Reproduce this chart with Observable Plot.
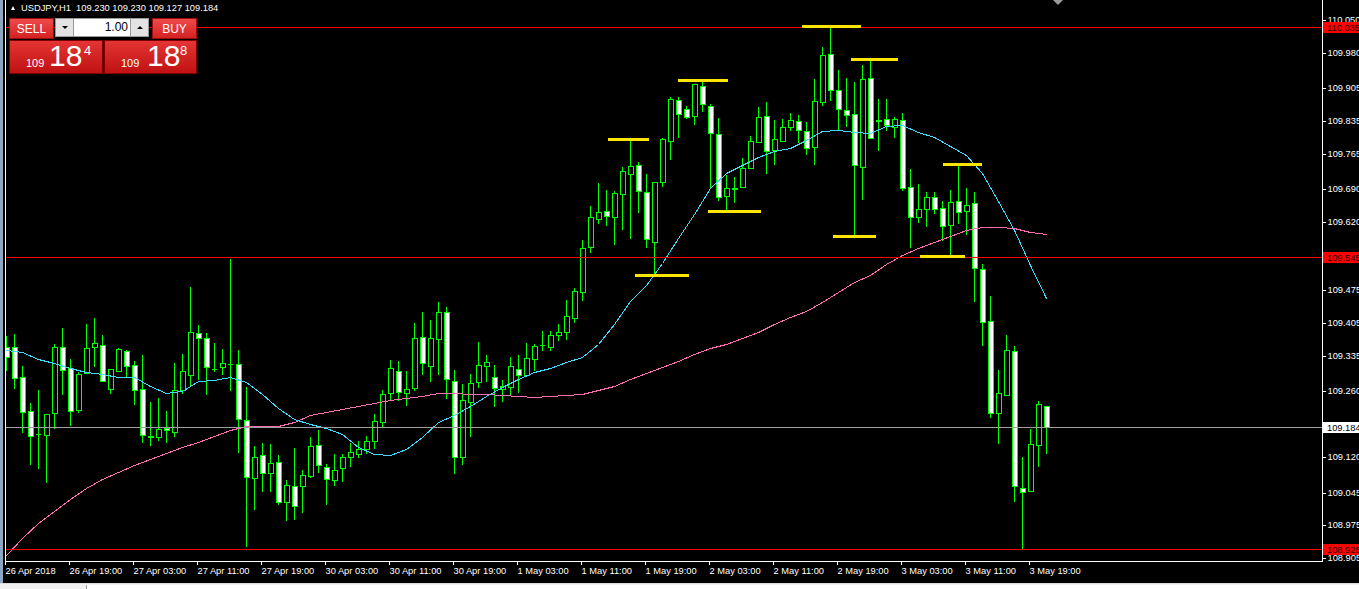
<!DOCTYPE html>
<html>
<head>
<meta charset="utf-8">
<script src="https://cdn.jsdelivr.net/npm/d3@7"></script>
<script src="https://cdn.jsdelivr.net/npm/@observablehq/plot@0.6"></script>
<style>
html,body{margin:0;padding:0;background:#000;width:1359px;height:589px;overflow:hidden;}
body{font-family:Tahoma,"Liberation Sans",Arial,sans-serif;}
#wrap{position:relative;width:1359px;height:589px;overflow:hidden;}
#chart{position:absolute;left:0;top:0;}
#leftedge{position:absolute;left:0;top:0;width:3px;height:583px;background:#8da5bf;}
#hdr{position:absolute;left:21px;top:3px;color:#fff;font-size:9.3px;line-height:10px;white-space:pre;}
#tri{position:absolute;left:11px;top:6px;width:0;height:0;border-left:2.5px solid transparent;border-right:2.5px solid transparent;border-bottom:4px solid #fff;}
.btn{position:absolute;top:18px;height:21px;background:linear-gradient(#ee4a4a,#d42222);border:1px solid #9c0b0b;box-sizing:border-box;color:#fff;font-size:12px;line-height:20px;text-align:center;}
#sell{left:9px;width:45px;}
#buy{left:152px;width:45px;}
.arr{position:absolute;top:18px;height:19px;width:19px;background:#e3e3e3;border:1px solid #9a9a9a;box-sizing:border-box;}
#dn{left:55px;}
#up{left:130px;}
.arr i{position:absolute;left:6px;width:0;height:0;border-left:3px solid transparent;border-right:3px solid transparent;}
#dn i{top:7px;border-top:3px solid #000;}
#up i{top:7px;border-bottom:3px solid #000;}
#inp{position:absolute;left:74px;top:18px;width:56px;height:19px;background:#fff;border-top:1px solid #9a9a9a;border-bottom:1px solid #9a9a9a;box-sizing:border-box;color:#000;font-size:12px;line-height:17px;text-align:right;padding-right:2px;}
.big{position:absolute;top:40px;height:34px;background:linear-gradient(#e43434,#c01212);border:1px solid #7c0000;box-sizing:border-box;color:#fff;}
#bsell{left:9px;width:94px;}
#bbuy{left:104px;width:93px;}
.big span{position:absolute;white-space:nowrap;}
.big .s{font-size:11px;line-height:11px;top:16.5px;}
.big .b{font-size:30px;line-height:30px;top:0px;}
.big .p{font-size:13px;line-height:13px;top:2.5px;}
#chev{position:absolute;left:1053px;top:0;width:0;height:0;border-left:5px solid transparent;border-right:5px solid transparent;border-top:5px solid #9a9a9a;}
#bottom{position:absolute;left:0;top:583px;width:1359px;height:6px;background:#f0f0f0;border-top:1px solid #dcdcdc;box-sizing:border-box;}
#tabs{position:absolute;left:86px;top:1px;width:1273px;height:5px;background:#fff;border-left:1px solid #a0a0a0;}
</style>
</head>
<body>
<div id="wrap">
  <div id="chart"></div>
  <div id="leftedge"></div>
  <div id="tri"></div>
  <div id="hdr"></div>
  <div class="btn" id="sell">SELL</div>
  <div class="arr" id="dn"><i></i></div>
  <div id="inp">1.00</div>
  <div class="arr" id="up"><i></i></div>
  <div class="btn" id="buy">BUY</div>
  <div class="big" id="bsell"><span class="s" style="left:16px">109</span><span class="b" style="left:39px">18</span><span class="p" style="left:74px">4</span></div>
  <div class="big" id="bbuy"><span class="s" style="left:16px">109</span><span class="b" style="left:42px">18</span><span class="p" style="left:75px">8</span></div>
  <div id="chev"></div>
  <div id="bottom"><div id="tabs"></div></div>
</div>
<script>
// ---- Data: USDJPY H1, bars 26 Apr 2018 11:00 .. 3 May 2018 21:00 ----
const symbol = "USDJPY,H1";
const open = [109.355,109.355,109.290,109.218,109.170,109.167,109.214,109.354,109.309,109.220,
109.299,109.354,109.359,109.265,109.304,109.347,109.316,109.265,109.165,109.164,
109.182,109.174,109.263,109.296,109.384,109.374,109.308,109.311,109.318,109.318,
109.199,109.075,109.124,109.087,109.109,109.026,109.058,109.058,109.081,109.146,
109.100,109.072,109.097,109.121,109.128,109.138,109.155,109.194,109.256,109.304,
109.256,109.268,109.376,109.315,109.371,109.430,109.283,109.121,109.238,109.281,
109.314,109.290,109.265,109.269,109.307,109.295,109.329,109.358,109.355,109.379,
109.387,109.417,109.471,109.567,109.627,109.644,109.630,109.679,109.722,109.741,
109.684,109.578,109.706,109.793,109.879,109.860,109.846,109.910,109.866,109.807,
109.676,109.691,109.695,109.736,109.790,109.845,109.774,109.793,109.823,109.835,
109.813,109.779,109.875,109.977,109.900,109.858,109.849,109.738,109.926,109.836,
109.839,109.823,109.837,109.694,109.632,109.649,109.674,109.651,109.613,109.664,
109.643,109.660,109.520,109.410,109.215,109.253,109.345,109.054,109.049,109.147,
109.230];
const high = [109.378,109.382,109.314,109.235,109.263,109.213,109.360,109.396,109.329,109.302,
109.403,109.416,109.380,109.308,109.352,109.348,109.325,109.337,109.238,109.246,
109.218,109.320,109.340,109.483,109.401,109.385,109.364,109.350,109.542,109.348,
109.270,109.144,109.150,109.148,109.125,109.072,109.140,109.092,109.163,109.178,
109.105,109.127,109.128,109.151,109.155,109.165,109.212,109.263,109.327,109.325,
109.304,109.406,109.430,109.413,109.451,109.440,109.306,109.275,109.297,109.366,
109.338,109.316,109.284,109.333,109.338,109.362,109.361,109.389,109.389,109.403,
109.455,109.481,109.582,109.654,109.703,109.688,109.686,109.738,109.795,109.748,
109.722,109.706,109.800,109.886,109.886,109.867,109.914,109.917,109.871,109.841,
109.720,109.715,109.756,109.803,109.864,109.875,109.837,109.839,109.852,109.848,
109.834,109.924,109.992,110.035,109.944,109.926,109.919,109.954,109.963,109.882,
109.882,109.844,109.852,109.733,109.701,109.684,109.684,109.665,109.688,109.741,
109.692,109.684,109.531,109.462,109.306,109.380,109.357,109.121,109.180,109.240,
109.230];
const low = [109.304,109.265,109.171,109.103,109.095,109.065,109.181,109.253,109.187,109.214,
109.297,109.313,109.280,109.255,109.302,109.288,109.231,109.150,109.143,109.155,
109.151,109.163,109.255,109.270,109.284,109.253,109.302,109.295,109.262,109.130,
108.930,109.007,109.046,109.047,109.019,108.985,108.987,109.001,109.076,109.086,
109.019,109.058,109.068,109.100,109.119,109.128,109.138,109.185,109.242,109.240,
109.229,109.262,109.295,109.281,109.295,109.245,109.084,109.104,109.163,109.267,
109.281,109.226,109.238,109.253,109.256,109.291,109.304,109.345,109.345,109.368,
109.369,109.405,109.453,109.555,109.616,109.612,109.571,109.603,109.584,109.640,
109.564,109.508,109.695,109.752,109.800,109.839,109.826,109.855,109.692,109.664,
109.644,109.661,109.694,109.735,109.789,109.723,109.742,109.791,109.813,109.788,
109.763,109.742,109.867,109.878,109.816,109.823,109.593,109.667,109.797,109.771,
109.814,109.800,109.687,109.566,109.618,109.609,109.637,109.581,109.550,109.617,
109.593,109.451,109.357,109.204,109.148,109.251,109.026,108.925,109.048,109.100,
109.127];
const close = [109.333,109.288,109.216,109.165,109.169,109.212,109.355,109.306,109.218,109.297,
109.352,109.362,109.282,109.307,109.350,109.314,109.263,109.167,109.163,109.180,
109.177,109.263,109.303,109.386,109.374,109.311,109.307,109.320,109.319,109.201,
109.078,109.120,109.086,109.107,109.024,109.061,109.017,109.082,109.144,109.103,
109.073,109.094,109.120,109.131,109.137,109.154,109.197,109.254,109.309,109.258,
109.265,109.373,109.320,109.373,109.428,109.286,109.120,109.241,109.279,109.316,
109.322,109.267,109.272,109.314,109.295,109.331,109.357,109.359,109.379,109.386,
109.420,109.473,109.564,109.630,109.642,109.633,109.681,109.729,109.739,109.686,
109.584,109.705,109.796,109.882,109.849,109.844,109.913,109.871,109.809,109.674,
109.692,109.692,109.735,109.793,109.843,109.771,109.796,109.822,109.837,109.816,
109.777,109.878,109.975,109.902,109.860,109.847,109.741,109.924,109.798,109.837,
109.827,109.839,109.692,109.630,109.647,109.673,109.648,109.611,109.662,109.641,
109.656,109.522,109.408,109.214,109.256,109.348,109.058,109.047,109.148,109.233,
109.184];

// Moving averages, read every 2 bars
const maIndex = d3.range(0, 131, 2);
const maFast = [109.348,109.344,109.329,109.321,109.310,109.301,109.297,109.291,109.291,109.271,
109.257,109.261,109.282,109.285,109.290,109.280,109.255,109.225,109.201,109.191,
109.182,109.170,109.142,109.127,109.125,109.137,109.163,109.195,109.210,109.229,
109.250,109.270,109.287,109.301,109.310,109.323,109.333,109.361,109.403,109.452,
109.486,109.533,109.586,109.637,109.693,109.725,109.742,109.759,109.771,109.778,
109.795,109.814,109.816,109.812,109.810,109.824,109.827,109.812,109.801,109.782,
109.763,109.725,109.665,109.603,109.529,109.459];
const maSlow = [108.912,108.948,108.980,109.006,109.031,109.055,109.074,109.089,109.103,109.117,
109.129,109.142,109.153,109.166,109.178,109.186,109.187,109.186,109.196,109.211,
109.216,109.223,109.229,109.235,109.242,109.246,109.250,109.256,109.257,109.255,
109.255,109.252,109.250,109.249,109.250,109.252,109.255,109.263,109.272,109.286,
109.300,109.312,109.325,109.340,109.352,109.361,109.374,109.386,109.403,109.418,
109.431,109.450,109.471,109.492,109.507,109.531,109.550,109.564,109.577,109.590,
109.603,109.610,109.610,109.608,109.600,109.594];

// Horizontal levels
const redLevels = [110.035, 109.545, 108.925];
const bidLevel = 109.184;

// Yellow marker segments (price level, from bar, to bar)
const segLevel = [109.796, 109.508, 109.922, 109.643, 110.037, 109.590, 109.968, 109.547, 109.743];
const segFrom  = [75.2, 78.6, 84.0, 87.7, 99.5, 103.3, 105.6, 114.2, 117.1];
const segTo    = [80.3, 85.3, 90.2, 94.3, 106.8, 108.7, 111.5, 119.8, 122.0];

// Axis ticks
const xTickIndex = [0,8,16,24,32,40,48,56,64,72,80,88,96,104,112,120,128];
const xTickLabel = ["26 Apr 2018","26 Apr 19:00","27 Apr 03:00","27 Apr 11:00","27 Apr 19:00",
"30 Apr 03:00","30 Apr 11:00","30 Apr 19:00","1 May 03:00","1 May 11:00","1 May 19:00",
"2 May 03:00","2 May 11:00","2 May 19:00","3 May 03:00","3 May 11:00","3 May 19:00"];
const yTicks = [110.050,109.980,109.905,109.835,109.765,109.690,109.620,109.475,109.405,
109.335,109.260,109.120,109.045,108.975,108.905];

// ---- Build ----
const W = 1359, H = 583, mL = 5, mR = 37, mT = 0, mB = 22;
const GREEN = "#00ff00";
const CRISP = "crispEdges";
const bars = open.map((o, i) => ({i, o, h: high[i], l: low[i], c: close[i]}));
const fast = maIndex.map((i, k) => ({i, v: maFast[k]}));
const slow = maIndex.map((i, k) => ({i, v: maSlow[k]}));
const segs = segLevel.map((v, k) => ({v, a: segFrom[k], b: segTo[k]}));
const xLab = new Map(xTickIndex.map((t, k) => [t, xTickLabel[k]]));
const hw = 0.3;

const last = bars[bars.length - 1];
document.getElementById("hdr").textContent =
  `${symbol}  ${last.o.toFixed(3)} ${last.h.toFixed(3)} ${last.l.toFixed(3)} ${last.c.toFixed(3)}`;

const svg = Plot.plot({
  width: W, height: H,
  marginLeft: mL, marginRight: mR, marginTop: mT, marginBottom: mB,
  style: {background: "#000", color: "#fff", fontFamily: "Tahoma, 'Liberation Sans', Arial, sans-serif", fontSize: "9.3px"},
  x: {type: "linear", domain: [0, 130], range: [6.3, 1046.3], round: true},
  y: {type: "linear", domain: [108.925, 110.035], range: [549, 27], round: true},
  marks: [
    Plot.ruleX(bars, {x: "i", y1: "l", y2: "h", stroke: GREEN, clip: true, shapeRendering: CRISP}),
    Plot.rect(bars, {x1: d => d.i - hw, x2: d => d.i + hw, y1: "o", y2: "c",
      fill: d => d.c < d.o ? "#ffffff" : "#000000", stroke: GREEN, clip: true, shapeRendering: CRISP}),
    Plot.ruleY(bars, {filter: d => Math.abs(d.c - d.o) < 0.004, y: "o", x1: d => d.i - hw, x2: d => d.i + hw, stroke: GREEN, clip: true, shapeRendering: CRISP}),
    Plot.ruleY(bars, {filter: d => Math.abs(d.c - d.o) < 0.004, y: "c", x1: d => d.i - hw, x2: d => d.i + hw, stroke: GREEN, clip: true, shapeRendering: CRISP}),
    Plot.line(slow, {x: "i", y: "v", stroke: "#ff6fb0", strokeWidth: 1, clip: true, shapeRendering: CRISP}),
    Plot.line(fast, {x: "i", y: "v", stroke: "#3fdcff", strokeWidth: 1, clip: true, shapeRendering: CRISP}),
    Plot.ruleY(redLevels, {stroke: "#ff0000", shapeRendering: CRISP}),
    Plot.ruleY([bidLevel], {stroke: "#a0a0a0", shapeRendering: CRISP}),
    Plot.ruleY(segs, {y: "v", x1: "a", x2: "b", stroke: "#ffe600", strokeWidth: 3, shapeRendering: CRISP}),
    Plot.axisX({anchor: "bottom", ticks: xTickIndex, tickFormat: d => xLab.get(d), textAnchor: "start",
      tickSize: 4, tickPadding: 2, dx: -1, label: null}),
    Plot.axisY({anchor: "right", ticks: yTicks, tickFormat: d => d.toFixed(3), textAnchor: "start",
      tickSize: 3, tickPadding: 2, label: null})
  ]
});
document.getElementById("chart").appendChild(svg);

// frame lines and price tags on the price axis
const sel = d3.select(svg);
const fl = mL + 0.5, fr = W - mR + 0.5, fb = H - mB + 0.5;
sel.append("path").attr("d", `M${fl},0V${fb}H${fr}V0`).attr("fill", "none").attr("stroke", "#fff").attr("shape-rendering", CRISP);
const ys = svg.scale("y");
function tag(v, bg, fg) {
  const y = Math.round(ys.apply(v));
  sel.append("rect").attr("x", fr + 0.5).attr("y", y - 5).attr("width", W - fr).attr("height", 11).attr("fill", bg);
  sel.append("text").attr("x", fr + 4.5).attr("y", y + 0.5).attr("dy", "0.35em")
    .attr("text-anchor", "start").attr("fill", fg).attr("font-size", "9.3px").text(v.toFixed(3));
}
redLevels.forEach(v => tag(v, "#ff0000", "#2a0000"));
tag(bidLevel, "#ffffff", "#000000");
</script>
</body>
</html>
